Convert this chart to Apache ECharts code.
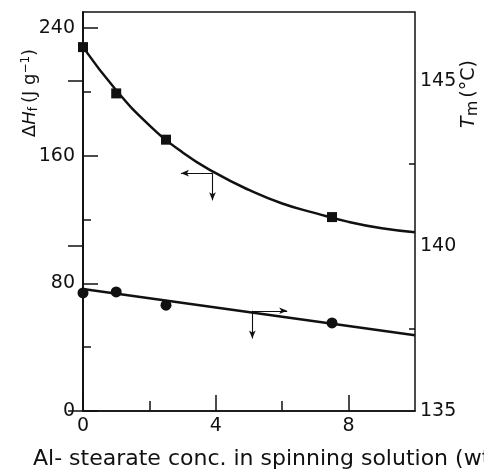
<!DOCTYPE html>
<html>
<head>
<meta charset="utf-8">
<script src="https://cdn.jsdelivr.net/npm/echarts@6/dist/echarts.min.js"></script>
<style>
  html, body { margin: 0; padding: 0; background: #fff; }
  #main { width: 484px; height: 469px; }
</style>
</head>
<body>
<div id="main"></div>
<script>
// measured points
let concX = [0, 1, 2.5, 7.5];                 // Al-stearate conc (wt %)
let heatY = [228, 199, 170, 121.5];           // ΔHf (J g-1), squares
let meltY = [138.58, 138.61, 138.21, 137.67]; // Tm (°C), circles

// fitted curves
let fitX = [0, 1, 2, 3, 4, 5, 6, 7, 8, 9, 10];
let heatFit = [228, 201, 179, 162, 149, 138.5, 130, 124, 118.5, 114.5, 112];
let meltFitX = [0, 10];
let meltFit = [138.70, 137.30];

// tick values
let xMajor = [0, 4, 8];
let xMinor = [2, 6];
let leftMajor = [0, 80, 160, 240];
let leftMinor = [40, 120, 200];
let rightMajor = [135, 140, 145];
let rightMinor = [137.5, 142.5];

// arrows (data coords)
let heatArrow = { at: [3.9, 149], left: 2.95, down: 132 };
let meltArrow = { at: [5.1, 138.04], right: 6.15, down: 137.2 };

const zip = (xs, ys) => xs.map((x, i) => [x, ys[i]]);

const chart = echarts.init(document.getElementById('main'), null, { renderer: 'canvas' });

const font = 'DejaVu Sans';
const ink = '#111';
const axisLine = { show: true, lineStyle: { color: ink, width: 1.5 } };
const tickLabel = { color: ink, fontFamily: font, fontSize: 19 };

const arrowLine = {
  silent: true,
  symbol: ['none', 'arrow'],
  symbolSize: [5, 8],
  label: { show: false },
  lineStyle: { color: ink, width: 1.1, type: 'solid' },
  emphasis: { disabled: true }
};

const option = {
  backgroundColor: '#fff',
  animation: false,
  grid: {
    left: 83, right: 69, top: 12, bottom: 58,
    show: true, borderColor: ink, borderWidth: 1.5
  },
  xAxis: [{
    type: 'value', min: 0, max: 10, position: 'bottom',
    axisLine: axisLine,
    axisTick: { inside: true, length: 16, customValues: xMajor, lineStyle: { color: ink, width: 1.5 } },
    axisLabel: Object.assign({ margin: 6, customValues: xMajor }, tickLabel),
    splitLine: { show: false }
  }, {
    type: 'value', min: 0, max: 10, position: 'bottom',
    axisLine: { show: false },
    axisTick: { inside: true, length: 10, customValues: xMinor, lineStyle: { color: ink, width: 1.5 } },
    axisLabel: { show: false },
    splitLine: { show: false }
  }],
  yAxis: [{
    type: 'value', min: 0, max: 250, position: 'left',
    axisLine: axisLine,
    axisTick: { inside: true, length: 15, customValues: leftMajor, lineStyle: { color: ink, width: 1.5 } },
    axisLabel: Object.assign({ margin: 8, customValues: leftMajor }, tickLabel),
    splitLine: { show: false }
  }, {
    type: 'value', min: 135, max: 147.1, position: 'right',
    axisLine: axisLine,
    axisTick: { inside: true, length: 15, customValues: rightMajor, lineStyle: { color: ink, width: 1.5 } },
    axisLabel: Object.assign({ margin: 5, customValues: rightMajor }, tickLabel),
    splitLine: { show: false }
  }, {
    type: 'value', min: 0, max: 250, position: 'left',
    axisLine: { show: false },
    axisTick: { inside: true, length: 8, customValues: leftMinor, lineStyle: { color: ink, width: 1.5 } },
    axisLabel: { show: false },
    splitLine: { show: false }
  }, {
    type: 'value', min: 135, max: 147.1, position: 'right',
    axisLine: { show: false },
    axisTick: { inside: true, length: 6, customValues: rightMinor, lineStyle: { color: ink, width: 1.5 } },
    axisLabel: { show: false },
    splitLine: { show: false }
  }],
  series: [{
    name: 'heat fit', type: 'line', smooth: 0.5, showSymbol: false,
    xAxisIndex: 0, yAxisIndex: 0,
    data: zip(fitX, heatFit),
    lineStyle: { color: ink, width: 2.5 },
    markLine: Object.assign({
      data: [
        [{ coord: heatArrow.at }, { coord: [heatArrow.left, heatArrow.at[1]] }],
        [{ coord: heatArrow.at }, { coord: [heatArrow.at[0], heatArrow.down] }]
      ]
    }, arrowLine)
  }, {
    name: 'heat', type: 'scatter', symbol: 'rect', symbolSize: 10,
    xAxisIndex: 0, yAxisIndex: 0,
    data: zip(concX, heatY),
    itemStyle: { color: ink, opacity: 1 }
  }, {
    name: 'melt fit', type: 'line', showSymbol: false,
    xAxisIndex: 0, yAxisIndex: 1,
    data: zip(meltFitX, meltFit),
    lineStyle: { color: ink, width: 2.5 },
    markLine: Object.assign({
      data: [
        [{ coord: meltArrow.at }, { coord: [meltArrow.right, meltArrow.at[1]] }],
        [{ coord: meltArrow.at }, { coord: [meltArrow.at[0], meltArrow.down] }]
      ]
    }, arrowLine)
  }, {
    name: 'melt', type: 'scatter', symbol: 'circle', symbolSize: 11,
    xAxisIndex: 0, yAxisIndex: 1,
    data: zip(concX, meltY),
    itemStyle: { color: ink, opacity: 1 }
  }],
  graphic: [{
    type: 'text', x: 30, y: 93, rotation: Math.PI / 2,
    style: {
      text: '{n|Δ}{i|H}{s|f}{n|(J g}{p|−1}{n|)}',
      align: 'center', verticalAlign: 'middle',
      rich: {
        n: { fontFamily: font, fontSize: 18, fill: ink },
        i: { fontFamily: font, fontSize: 18, fontStyle: 'italic', fill: ink },
        s: { fontFamily: font, fontSize: 12, fill: ink, padding: [8, 4, 0, 0] },
        p: { fontFamily: font, fontSize: 12, fill: ink, padding: [0, 0, 8, 0] }
      }
    }
  }, {
    type: 'text', x: 469, y: 94, rotation: Math.PI / 2,
    style: {
      text: '{i|T}{s|m}{n|(°C)}',
      align: 'center', verticalAlign: 'middle',
      rich: {
        n: { fontFamily: font, fontSize: 19, fill: ink },
        i: { fontFamily: font, fontSize: 19, fontStyle: 'italic', fill: ink },
        s: { fontFamily: font, fontSize: 16, fill: ink, padding: [8, 3, 0, 0] }
      }
    }
  }, {
    type: 'text', x: 33, y: 459,
    style: {
      text: 'Al- stearate conc. in spinning solution (wt',
      fontFamily: font, fontSize: 22, fill: ink,
      align: 'left', verticalAlign: 'middle'
    }
  }]
};

chart.setOption(option);
</script>
</body>
</html>
